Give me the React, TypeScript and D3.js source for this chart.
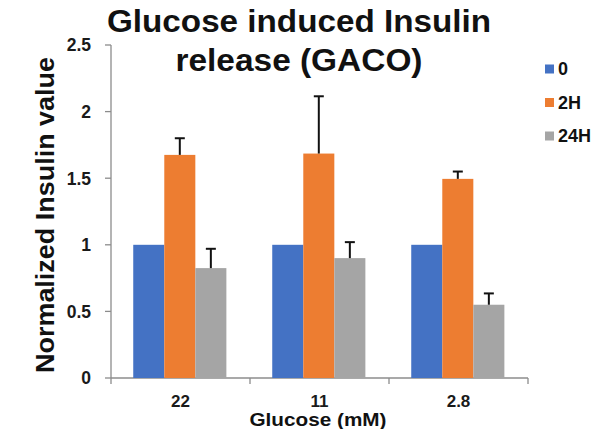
import { useEffect, useRef } from 'react';
import * as d3 from 'd3';

const categories = ['22', '11', '2.8'];
const seriesNames = ['0', '2H', '24H'];
const seriesColors = ['#4472C4', '#ED7D31', '#A5A5A5'];
const values0 = [1, 1, 1];
const values2H = [1.675, 1.685, 1.495];
const values24H = [0.825, 0.9, 0.55];
const err0 = [0, 0, 0];
const err2H = [0.125, 0.43, 0.055];
const err24H = [0.145, 0.12, 0.085];
const yTicks = [0, 0.5, 1, 1.5, 2, 2.5];

const W = 614;
const H = 429;
const FONT = '"Liberation Sans", Arial, sans-serif';

export default function App() {
  const svgRef = useRef<SVGSVGElement>(null);

  useEffect(() => {
    if (!svgRef.current) return;
    const svg = d3.select(svgRef.current);
    svg.selectAll('*').remove();

    const left = 111, right = 528, top = 45, bottom = 378;

    const x0 = d3.scaleBand().domain(categories).range([left, right]).padding(0);
    const bw = x0.bandwidth();
    const x1 = d3.scaleBand().domain(seriesNames).range([bw * 0.16, bw * 0.83]).padding(0);
    const y = d3.scaleLinear().domain([0, 2.5]).range([bottom, top]);

    const vals = [values0, values2H, values24H];
    const errs = [err0, err2H, err24H];
    const rows = categories.flatMap((c, i) =>
      seriesNames.map((s, j) => ({ cat: c, s, v: vals[j][i], e: errs[j][i], color: seriesColors[j] })));

    // ── Axes ─────────────────────────────────────────────
    const axisColor = '#8c8c8c';
    svg.append('line').attr('x1', left).attr('x2', left).attr('y1', top).attr('y2', bottom)
      .attr('stroke', axisColor).attr('stroke-width', 1.3);
    svg.append('g').selectAll('line').data(yTicks).enter().append('line')
      .attr('x1', left - 6).attr('x2', left).attr('y1', d => y(d)).attr('y2', d => y(d))
      .attr('stroke', axisColor).attr('stroke-width', 1.3);
    svg.append('g').selectAll('text').data(yTicks).enter().append('text')
      .attr('x', 91).attr('y', d => y(d)).attr('dy', '0.36em')
      .attr('text-anchor', 'end').attr('font-family', FONT).attr('font-weight', 'bold')
      .attr('font-size', 17.5).attr('fill', '#1a1a1a')
      .text(d => String(d));

    svg.append('line').attr('x1', left).attr('x2', right).attr('y1', bottom).attr('y2', bottom)
      .attr('stroke', axisColor).attr('stroke-width', 1.3);
    const bounds = [left, ...categories.map(c => x0(c)! + bw)];
    svg.append('g').selectAll('line').data(bounds).enter().append('line')
      .attr('x1', d => d).attr('x2', d => d).attr('y1', bottom).attr('y2', bottom + 6)
      .attr('stroke', axisColor).attr('stroke-width', 1.3);
    svg.append('g').selectAll('text').data(categories).enter().append('text')
      .attr('x', d => x0(d)! + bw / 2).attr('y', 407)
      .attr('text-anchor', 'middle').attr('font-family', FONT).attr('font-weight', 'bold')
      .attr('font-size', 17).attr('fill', '#1a1a1a')
      .text(d => d);

    // ── Bars ─────────────────────────────────────────────
    svg.append('g').selectAll('rect').data(rows).enter().append('rect')
      .attr('x', d => x0(d.cat)! + x1(d.s)!)
      .attr('y', d => y(d.v))
      .attr('width', x1.bandwidth())
      .attr('height', d => y(0) - y(d.v))
      .attr('fill', d => d.color);

    // ── Error bars (upper only) ──────────────────────────
    const eg = svg.append('g').selectAll('g').data(rows.filter(d => d.e > 0)).enter().append('g');
    eg.append('line')
      .attr('x1', d => x0(d.cat)! + x1(d.s)! + x1.bandwidth() / 2)
      .attr('x2', d => x0(d.cat)! + x1(d.s)! + x1.bandwidth() / 2)
      .attr('y1', d => y(d.v)).attr('y2', d => y(d.v + d.e))
      .attr('stroke', '#111').attr('stroke-width', 2);
    eg.append('line')
      .attr('x1', d => x0(d.cat)! + x1(d.s)! + x1.bandwidth() / 2 - 5)
      .attr('x2', d => x0(d.cat)! + x1(d.s)! + x1.bandwidth() / 2 + 5)
      .attr('y1', d => y(d.v + d.e)).attr('y2', d => y(d.v + d.e))
      .attr('stroke', '#111').attr('stroke-width', 2);

    // ── Titles ───────────────────────────────────────────
    const title = svg.append('text').attr('text-anchor', 'middle')
      .attr('font-family', FONT).attr('font-weight', 'bold').attr('font-size', 31).attr('fill', '#111');
    title.append('tspan').attr('x', 299).attr('y', 32)
      .attr('textLength', 384).attr('lengthAdjust', 'spacingAndGlyphs').text('Glucose induced Insulin');
    title.append('tspan').attr('x', 299).attr('y', 71)
      .attr('textLength', 247).attr('lengthAdjust', 'spacingAndGlyphs').text('release (GACO)');

    svg.append('text')
      .attr('transform', `translate(54,${(57 + 373) / 2}) rotate(-90)`)
      .attr('text-anchor', 'middle').attr('font-family', FONT).attr('font-weight', 'bold')
      .attr('font-size', 26).attr('fill', '#111')
      .attr('textLength', 316).attr('lengthAdjust', 'spacingAndGlyphs')
      .text('Normalized Insulin value');

    svg.append('text')
      .attr('x', 318).attr('y', 426)
      .attr('text-anchor', 'middle').attr('font-family', FONT).attr('font-weight', 'bold')
      .attr('font-size', 17.5).attr('fill', '#111')
      .attr('textLength', 137).attr('lengthAdjust', 'spacingAndGlyphs')
      .text('Glucose (mM)');

    // ── Legend ───────────────────────────────────────────
    const leg = svg.append('g').selectAll('g').data(seriesNames).enter().append('g')
      .attr('transform', (_, i) => `translate(545,${69 + i * 33.5})`);
    leg.append('rect').attr('x', 0).attr('y', -4.5).attr('width', 9).attr('height', 9)
      .attr('fill', (_, i) => seriesColors[i]);
    leg.append('text').attr('x', 13).attr('y', 0).attr('dy', '0.36em')
      .attr('font-family', FONT).attr('font-weight', 'bold').attr('font-size', 18).attr('fill', '#111')
      .text(d => d);
  }, []);

  return (
    <svg ref={svgRef} width={W} height={H}
      style={{ position: 'absolute', left: 0, top: 0, background: '#fff', display: 'block' }} />
  );
}
